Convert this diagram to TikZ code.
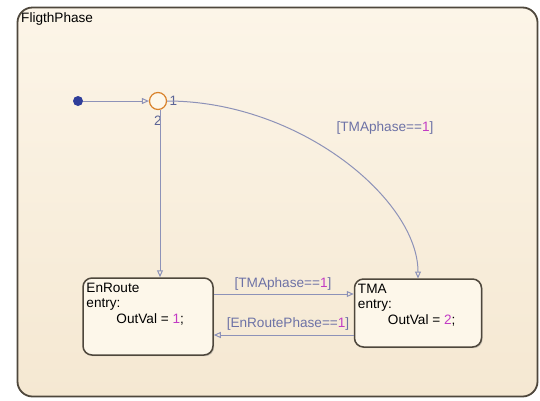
\documentclass[tikz,border=0pt]{standalone}
\usepackage{fontspec}
\setmainfont{Liberation Sans}
\usetikzlibrary{arrows.meta,shadows}
\definecolor{bgtop}{HTML}{FCF5E8}
\definecolor{bgbot}{HTML}{F5E8D2}
\definecolor{frame}{HTML}{4E473C}
\definecolor{statefill}{HTML}{FDF7EA}
\definecolor{trans}{HTML}{8D92B8}
\definecolor{lbl}{HTML}{6D72A6}
\definecolor{num}{HTML}{C23BC4}
\definecolor{junc}{HTML}{D9822B}
\definecolor{dot}{HTML}{2F3E9A}
\definecolor{jnum}{HTML}{5B6496}
\tikzset{
  statebox/.style={draw=frame, line width=1.5pt, rounded corners=9pt, fill=statefill,
    drop shadow={shadow xshift=1.2pt, shadow yshift=-1.2pt, opacity=0.35}},
  txt/.style={font=\fontsize{13.6}{15.5}\selectfont, inner sep=0pt, text=black, align=left},
  trline/.style={draw=trans, line width=1pt, -{Triangle[open, length=7pt, width=6pt]}},
  guard/.style={font=\fontsize{13.6}{15}\selectfont, text=lbl, inner sep=1pt},
  jlabel/.style={font=\fontsize{13.6}{15}\selectfont, text=jnum, inner sep=0pt}
}
\begin{document}
\begin{tikzpicture}[x=1pt,y=-1pt]
\useasboundingbox (0,0) rectangle (540,400);
\fill[white] (0,0) rectangle (540,400);
% outer superstate
\node[draw=frame, line width=1.8pt, rounded corners=15pt, top color=bgtop, bottom color=bgbot,
  minimum width=520pt, minimum height=389pt, inner sep=0pt] (outer) at (277.5,202) {};
\node[txt, anchor=north west] (title) at (21,12) {FligthPhase};
% default transition dot and junction
\node[circle, fill=dot, minimum size=10pt, inner sep=0pt] (start) at (78,101) {};
\node[circle, draw=junc, line width=1.2pt, fill=statefill, minimum size=17pt, inner sep=0pt] (j) at (158,101) {};
\node[jlabel] (j1) at (173.5,101) {1};
\node[jlabel] (j2) at (158,121) {2};
% states
\node[statebox, minimum width=130pt, minimum height=77pt, inner sep=0pt] (enroute) at (148,316.5) {};
\node[statebox, minimum width=127pt, minimum height=68pt, inner sep=0pt] (tma) at (418,313) {};
\node[txt, anchor=north west] (entext) at ([xshift=4pt,yshift=-5.5pt]enroute.north west)
  {EnRoute\\entry:\\\hspace*{30pt}OutVal = \textcolor{num}{1};};
\node[txt, anchor=north west] (tmatext) at ([xshift=4pt,yshift=-5.5pt]tma.north west)
  {TMA\\entry:\\\hspace*{30pt}OutVal = \textcolor{num}{2};};
% transitions
\draw[trline] (start) -- (j);
\draw[trline] (j.south) ++(2pt,0) coordinate (js) -- (js |- enroute.north);
\draw[trline] (j.east) .. controls (300,101) and (418,200) .. (418,278.5);
\node[guard] (g1) at (385,128) {[TMAphase==\textcolor{num}{1}]};
\coordinate (a1) at (enroute.east |- 0,294);
\draw[trline] (a1) -- (a1 -| tma.west);
\node[guard] (g2) at (283,284) {[TMAphase==\textcolor{num}{1}]};
\coordinate (a2) at (tma.west |- 0,335);
\draw[trline] (a2) -- (a2 -| enroute.east);
\node[guard] (g3) at (288,323.5) {[EnRoutePhase==\textcolor{num}{1}]};
\end{tikzpicture}
\end{document}
